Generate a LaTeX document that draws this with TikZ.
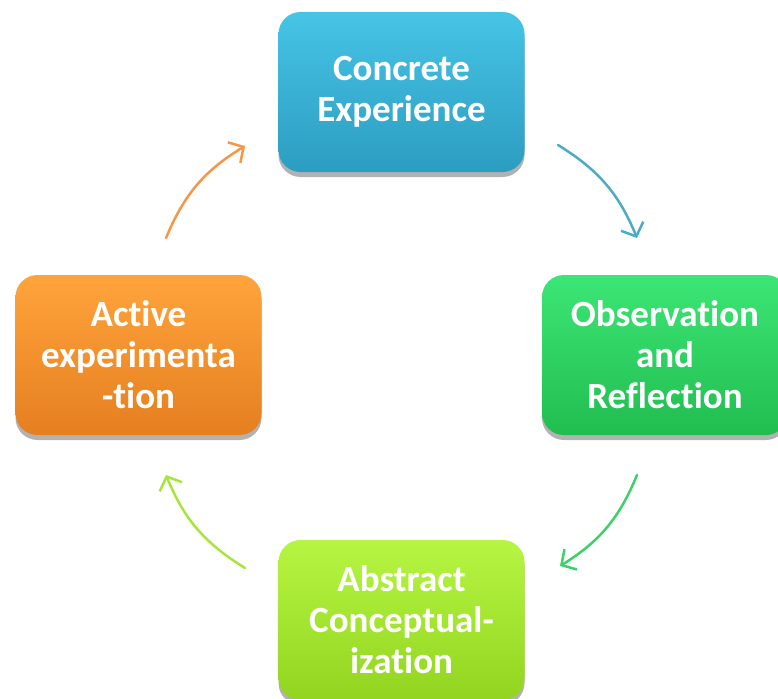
\documentclass[tikz,border=0pt]{standalone}
\usepackage{fontspec}
\setmainfont{Carlito}[Ligatures=NoCommon]
\usetikzlibrary{shadows,arrows.meta}
\definecolor{ceTop}{HTML}{46C4E6}
\definecolor{ceBot}{HTML}{2C9DC0}
\definecolor{orTop}{HTML}{3CE676}
\definecolor{orBot}{HTML}{21BD4F}
\definecolor{acTop}{HTML}{B6F642}
\definecolor{acBot}{HTML}{92D420}
\definecolor{aeTop}{HTML}{FFA43C}
\definecolor{aeBot}{HTML}{E57F20}
\definecolor{arBlue}{HTML}{4BACC6}
\definecolor{arGreen}{HTML}{3DD16A}
\definecolor{arLime}{HTML}{A6E63C}
\definecolor{arOrange}{HTML}{F79646}
\begin{document}
\begin{tikzpicture}[x=1pt,y=-1pt,
  box/.style={rounded corners=22pt, minimum width=246pt, minimum height=160pt,
    text=white, align=center, inner sep=0pt,
    font=\fontsize{37}{41}\selectfont\bfseries,
    drop shadow={shadow xshift=0pt,shadow yshift=-5pt,opacity=0.3,fill=black}},
  cyc/.style={line width=2.5pt, line cap=round,
    -{Straight Barb[length=11pt,width=24pt,line width=2.5pt]}}]
\useasboundingbox (0,0) rectangle (778,698);
\node[box, top color=ceTop, bottom color=ceBot] (ce) at (401.5,92) {Concrete\\Experience};
\node[box, top color=orTop, bottom color=orBot] (or) at (665,355) {Observation\\and\\Reflection};
\node[box, top color=acTop, bottom color=acBot] (ac) at (401.5,620) {Abstract\\Conceptual-\\ization};
\node[box, top color=aeTop, bottom color=aeBot] (ae) at (138.5,355) {Active\\experimenta\\-tion};
\coordinate (a1s) at (558,145); \coordinate (a1e) at (637,238);
\coordinate (a2s) at (637,475); \coordinate (a2e) at (560,566);
\coordinate (a3s) at (245,568); \coordinate (a3e) at (166,475);
\coordinate (a4s) at (166,238); \coordinate (a4e) at (245,146);
\draw[cyc, arBlue] (a1s) to[bend left=18] (a1e);
\draw[cyc, arGreen] (a2s) to[bend left=18] (a2e);
\draw[cyc, arLime] (a3s) to[bend left=18] (a3e);
\draw[cyc, arOrange] (a4s) to[bend left=18] (a4e);
\end{tikzpicture}
\end{document}
